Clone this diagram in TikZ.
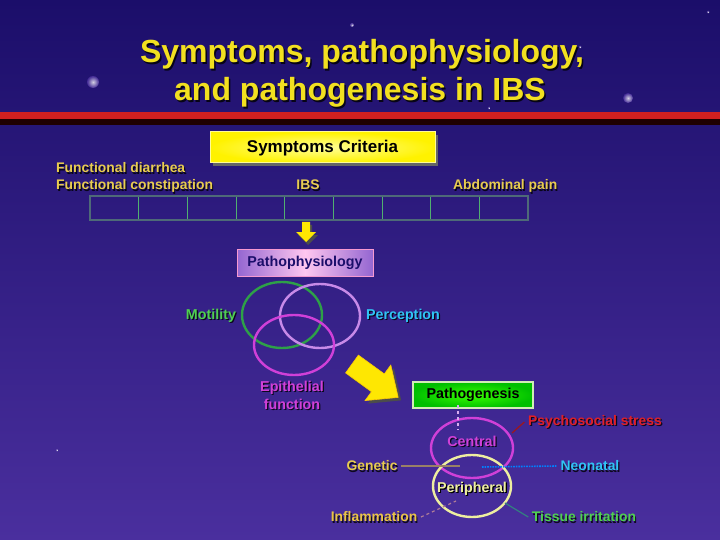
\documentclass[tikz,border=0pt]{standalone}
\usepackage{fontspec}
\setmainfont{Liberation Sans}
\usetikzlibrary{calc}

\definecolor{skytop}{HTML}{1B0E6A}
\definecolor{skybot}{HTML}{4A2F9E}
\definecolor{titleyel}{HTML}{F2E020}
\definecolor{barred}{HTML}{D02020}
\definecolor{labyel}{HTML}{E8CC50}
\definecolor{cellgray}{HTML}{4E6A78}
\definecolor{cellgreen}{HTML}{50B070}
\definecolor{motgreen}{HTML}{4FD050}
\definecolor{percyan}{HTML}{30C4F4}
\definecolor{epimag}{HTML}{D040D8}
\definecolor{lavring}{HTML}{C88AE8}
\definecolor{ringgreen}{HTML}{2EA048}
\definecolor{stressred}{HTML}{E02028}
\definecolor{periyel}{HTML}{EEEEA0}

\tikzset{
  shadowtext/.style={text=black, opacity=0.8},
  titlefont/.style={anchor=base, font=\bfseries\fontsize{32}{32}\selectfont},
  boxlabel/.style={font=\bfseries\fontsize{14.3}{14.3}\selectfont},
  smalllabel/.style={font=\bfseries\fontsize{13.9}{13.9}\selectfont},
  ring/.style={line width=2.4pt},
  leader/.style={line width=1.2pt},
}

% colored text with a small dark shadow under it
\newcommand{\shadowlabel}[5]{%
  \node[#4, shadowtext] (#1s) at ($(#2)+(1.2,1.2)$) {#5};
  \node[#4, text=#3] (#1) at (#2) {#5};
}

\begin{document}
\begin{tikzpicture}[x=1pt,y=-1pt,thick]
  \useasboundingbox (0,0) rectangle (720,540);
  \shade[top color=skytop, bottom color=skybot] (0,0) rectangle (720,540);

  % stars
  \foreach \sx/\sy/\sr in {93/82/6, 628/98/5, 352/25/2, 580/47/1.5, 489/108/1.5, 177/92/1.5, 708/12/1.5, 57/450/1.5}
    \shade[inner color=white, outer color=skybot, opacity=0.8] (\sx,\sy) circle [radius=\sr];

  % title
  \node[shadowtext, titlefont] (title1s) at (363.5,64.5) {Symptoms, pathophysiology,};
  \node[text=titleyel, titlefont] (title1) at (362,63) {Symptoms, pathophysiology,};
  \node[shadowtext, titlefont] (title2s) at (361.5,102.5) {and pathogenesis in IBS};
  \node[text=titleyel, titlefont] (title2) at (360,101) {and pathogenesis in IBS};

  % red bar
  \fill[black!70!red!40!black] (0,118) rectangle (720,125);
  \fill[barred] (0,112) rectangle (720,119);

  % symptoms criteria
  \fill[black!60] (213,135) rectangle (438,166);
  \shade[draw=yellow!40, line width=1pt, outer color=yellow!90!orange, inner color=yellow!40] (210,132) rectangle (435,163);
  \node[font=\bfseries\fontsize{17}{17}\selectfont] (crit) at (322.5,148) {Symptoms Criteria};

  \shadowlabel{fdia}{52.5,173}{labyel}{smalllabel, anchor=base west}{Functional diarrhea}
  \shadowlabel{fcon}{52.5,190}{labyel}{smalllabel, anchor=base west}{Functional constipation}
  \shadowlabel{ibs}{308,190}{labyel}{smalllabel, anchor=base}{IBS}
  \shadowlabel{abd}{561,190}{labyel}{smalllabel, anchor=base east}{Abdominal pain}

  % row of cells
  \foreach \i in {1,...,8}
    \draw[cellgreen, line width=1pt] ({90+\i*48.67},197) -- ({90+\i*48.67},220);
  \draw[cellgray, line width=2.4pt] (90,196) rectangle (528,220);

  % small arrow down
  \fill[black!70] (304,225) -- (312,225) -- (312,235) -- (318,235) -- (308,245) -- (298,235) -- (304,235) -- cycle;
  \fill[yellow!90!orange] (302,222) -- (310,222) -- (310,232) -- (316,232) -- (306,242) -- (296,232) -- (302,232) -- cycle;

  % pathophysiology
  \shade[draw=magenta!40, line width=1pt, left color=blue!40!violet!60, right color=blue!40!violet!60, middle color=pink!60!magenta!40] (237,249) rectangle (373,276);
  \node[boxlabel, text=skytop] (patho) at (305,262.5) {Pathophysiology};

  \draw[ringgreen, ring] (282,315) ellipse [x radius=40, y radius=33];
  \draw[lavring, ring] (320,316) ellipse [x radius=40, y radius=32];
  \draw[epimag, ring] (294,345) ellipse [x radius=40, y radius=30];

  \shadowlabel{mot}{211,316}{motgreen}{boxlabel}{Motility}
  \shadowlabel{perc}{403,316}{percyan}{boxlabel}{Perception}
  \shadowlabel{epi1}{292,388}{epimag}{boxlabel}{Epithelial}
  \shadowlabel{epi2}{292,404}{epimag}{boxlabel}{function}

  % big arrow
  \fill[black!70] (348.6,375.9) -- (361.4,358.1) -- (387.3,376.9) -- (393.8,368.0) -- (401.2,400.4) -- (368.0,403.6) -- (374.5,394.7) -- cycle;
  \fill[yellow!90!orange, draw=yellow!60!orange, line width=0.6pt] (345.6,372.9) -- (358.4,355.1) -- (384.3,373.9) -- (390.8,365.0) -- (398.2,397.4) -- (365.0,400.6) -- (371.5,391.7) -- cycle;

  % pathogenesis
  \shade[draw=yellow!40!green!30, line width=1.5pt, inner color=green!70!lime, outer color=green!75!black] (413,382) rectangle (533,408);
  \node[boxlabel, text=black] (pgen) at (473,395) {Pathogenesis};

  \draw[epimag, ring] (472,448) ellipse [x radius=41, y radius=30];
  \draw[periyel, ring] (472,486) ellipse [x radius=39, y radius=31];

  \shadowlabel{cen}{472,441}{epimag}{boxlabel}{Central}
  \node[boxlabel, text=black] (perib) at (473,490) {Peripheral};
  \shadowlabel{peri}{472,489}{periyel}{boxlabel}{Peripheral}
  \shadowlabel{psy}{595,422}{stressred}{smalllabel}{Psychosocial stress}
  \shadowlabel{gen}{372,466}{labyel}{smalllabel}{Genetic}
  \shadowlabel{neo}{590,466}{percyan}{smalllabel}{Neonatal}
  \shadowlabel{inf}{374,517}{labyel!90!orange}{smalllabel}{Inflammation}
  \shadowlabel{tis}{584,517}{motgreen}{smalllabel}{Tissue irritation}

  % leaders
  \coordinate (cenTop) at (458,430);
  \coordinate (cenRight) at (512,433);
  \coordinate (genEnd) at (460,466);
  \coordinate (neoEnd) at (482,467);
  \coordinate (infEnd) at (456,501);
  \coordinate (tisEnd) at (505,503);
  \draw[leader, lavring!70!white, dashed] (pgen.south -| cenTop) -- (cenTop);
  \draw[leader, stressred!70!black] (cenRight) -- (psy.west);
  \draw[leader, gray!80!orange] (gen.east) -- (genEnd);
  \draw[leader, blue!50!cyan, line width=1.6pt, densely dotted] (neoEnd) -- (neo.west);
  \draw[leader, magenta!30!gray, dashed] (inf.east) -- (infEnd);
  \draw[leader, teal!60!gray] (tisEnd) -- (tis.west);
\end{tikzpicture}
\end{document}
